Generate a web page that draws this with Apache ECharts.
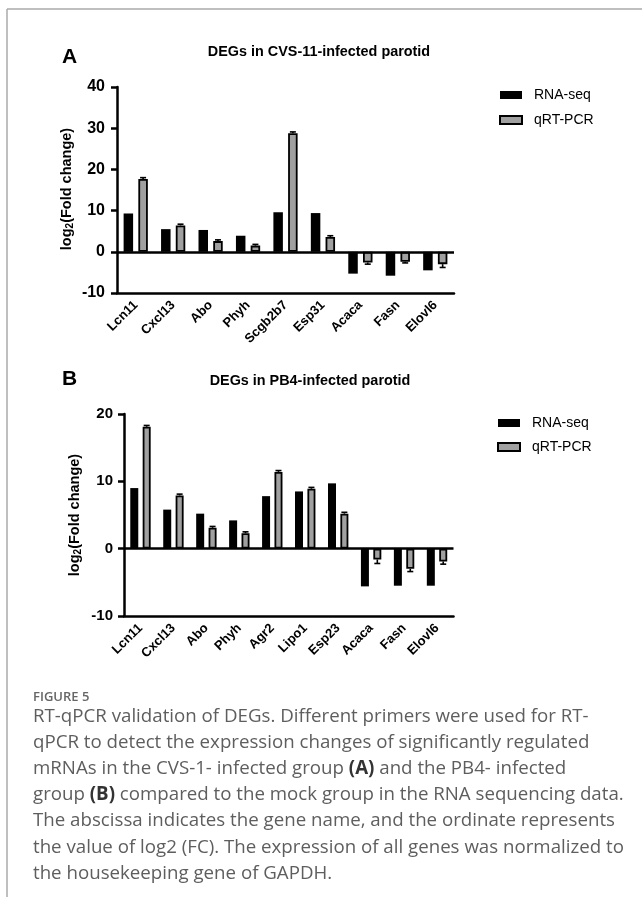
<!DOCTYPE html>
<html>
<head>
<meta charset="utf-8">
<script src="https://cdn.jsdelivr.net/npm/echarts@6/dist/echarts.min.js"></script>
<style>html,body{margin:0;padding:0;background:#fff;}#c{width:642px;height:897px;}</style>
</head>
<body>
<div id="c"></div>
<script>
// ---- Data ----
const genesA = ['Lcn11','Cxcl13','Abo','Phyh','Scgb2b7','Esp31','Acaca','Fasn','Elovl6'];
const rnaA   = [9.3, 5.5, 5.3, 3.9, 9.6, 9.4, -5.3, -5.8, -4.5];
const qpcrA  = [17.7, 6.4, 2.6, 1.5, 28.8, 3.6, -2.6, -2.4, -3.0];
const errA   = [0.3, 0.3, 0.3, 0.3, 0.3, 0.3, 0.4, 0.3, 0.8];

const genesB = ['Lcn11','Cxcl13','Abo','Phyh','Agr2','Lipo1','Esp23','Acaca','Fasn','Elovl6'];
const rnaB   = [9.0, 5.8, 5.2, 4.2, 7.8, 8.5, 9.7, -5.6, -5.5, -5.5];
const qpcrB  = [18.1, 7.9, 3.1, 2.3, 11.4, 8.9, 5.2, -1.6, -3.0, -1.9];
const errB   = [0.2, 0.2, 0.2, 0.2, 0.2, 0.2, 0.2, 0.6, 0.4, 0.4];

const yTicksA = {min: -10, max: 40, interval: 10};
const yTicksB = {min: -10, max: 20, interval: 10};

const FONT = 'Liberation Sans, Arial, sans-serif';
const chart = echarts.init(document.getElementById('c'), null, {renderer: 'canvas'});

function xAxisCfg(gi, cats) {
  return {
    type: 'category', gridIndex: gi, data: cats, boundaryGap: true,
    axisLine: {onZero: false, lineStyle: {color: '#000', width: 2.5}},
    axisTick: {alignWithLabel: true, length: 7, lineStyle: {color: '#000', width: 2.5}},
    axisLabel: {rotate: 45, margin: 10, color: '#000', fontFamily: FONT, fontWeight: 'bold', fontSize: 13, interval: 0},
    splitLine: {show: false}
  };
}
function yAxisCfg(gi, t, fs, mg) {
  return {
    type: 'value', gridIndex: gi, min: t.min, max: t.max, interval: t.interval,
    axisLine: {show: true, lineStyle: {color: '#000', width: 2.5}},
    axisTick: {show: true, length: 6, lineStyle: {color: '#000', width: 2.5}},
    axisLabel: {color: '#000', fontFamily: FONT, fontWeight: 'bold', fontSize: fs, margin: mg},
    splitLine: {show: false}
  };
}
const blackStyle = {color: '#000'};
const grayStyle = {color: '#a0a0a0', borderColor: '#000', borderWidth: 1.8};

function errSeries(gi, vals, errs, off) {
  return {
    type: 'custom', xAxisIndex: gi, yAxisIndex: gi, z: 5, silent: true,
    data: vals.map((v, i) => [i, v, errs[i]]),
    renderItem: function (params, api) {
      const i = api.value(0), v = api.value(1), e = api.value(2);
      const s = v >= 0 ? 1 : -1;
      const p0 = api.coord([i, v]);
      const p1 = api.coord([i, v + s * e]);
      const x = p0[0] + off;
      return {type: 'group', children: [
        {type: 'line', shape: {x1: x, y1: p0[1], x2: x, y2: p1[1]}, style: {stroke: '#000', lineWidth: 1.6}},
        {type: 'line', shape: {x1: x - 3, y1: p1[1], x2: x + 3, y2: p1[1]}, style: {stroke: '#000', lineWidth: 1.6}}
      ]};
    }
  };
}
const zeroLine = {silent: true, symbol: 'none', label: {show: false}, lineStyle: {color: '#000', width: 2.5, type: 'solid'}, data: [{yAxis: 0}]};

const wA = 9.5, gA = 0.55, wB = 8, gB = 0.55;

function yName(x, y) {
  return {
    type: 'text', x: x, y: y, rotation: Math.PI / 2,
    style: {
      text: '{a|log}{s|2}{a|(Fold change)}',
      align: 'center', verticalAlign: 'middle',
      rich: {
        a: {fontFamily: FONT, fontWeight: 'bold', fontSize: 14.5, lineHeight: 17, fill: '#000', verticalAlign: 'middle'},
        s: {fontFamily: FONT, fontWeight: 'bold', fontSize: 10, lineHeight: 10, fill: '#000', verticalAlign: 'bottom'}
      }
    }
  };
}
function txt(x, y, text, font, fill, align, rich) {
  const st = {text: text, x: 0, y: 0, font: font, fill: fill || '#000', align: align || 'left', verticalAlign: 'middle'};
  if (rich) st.rich = rich;
  return {type: 'text', x: x, y: y, style: st};
}
const CAPC = '#5e5e5e';
const capFont = '18.7px "Open Sans", sans-serif';
const capRich = {
  n: {font: capFont, fill: CAPC},
  b: {font: 'bold 18.7px "Open Sans", sans-serif', fill: '#333'}
};

const legendText = {fontFamily: FONT, fontSize: 14, color: '#000', padding: [0, 0, 0, 7]};

const option = {
  backgroundColor: '#fff',
  animation: false,
  grid: [
    {left: 117, top: 87, width: 337, height: 206},
    {left: 124, top: 414, width: 329.5, height: 202}
  ],
  xAxis: [xAxisCfg(0, genesA), xAxisCfg(1, genesB)],
  yAxis: [yAxisCfg(0, yTicksA, 16, 12), yAxisCfg(1, yTicksB, 15, 11)],
  legend: [
    {orient: 'vertical', left: 494, top: 83, itemWidth: 22, itemHeight: 8, itemGap: 11, icon: 'rect',
     data: ['RNA-seq', 'qRT-PCR'], textStyle: legendText},
    {orient: 'vertical', left: 492, top: 411, itemWidth: 22, itemHeight: 8, itemGap: 10, icon: 'rect',
     data: ['RNA-seq', 'qRT-PCR'], textStyle: legendText}
  ],
  series: [
    {name: 'RNA-seq', type: 'bar', xAxisIndex: 0, yAxisIndex: 0, data: rnaA, barWidth: wA, barGap: (gA * 100) + '%', itemStyle: blackStyle, markLine: zeroLine},
    {name: 'qRT-PCR', type: 'bar', xAxisIndex: 0, yAxisIndex: 0, data: qpcrA, barWidth: wA, barGap: (gA * 100) + '%', itemStyle: grayStyle},
    errSeries(0, qpcrA, errA, wA * (1 + gA) / 2),
    {name: 'RNA-seq', type: 'bar', xAxisIndex: 1, yAxisIndex: 1, data: rnaB, barWidth: wB, barGap: (gB * 100) + '%', itemStyle: blackStyle, markLine: zeroLine},
    {name: 'qRT-PCR', type: 'bar', xAxisIndex: 1, yAxisIndex: 1, data: qpcrB, barWidth: wB, barGap: (gB * 100) + '%', itemStyle: grayStyle},
    errSeries(1, qpcrB, errB, wB * (1 + gB) / 2)
  ],
  graphic: [
    {type: 'line', shape: {x1: 7, y1: 9, x2: 642, y2: 9}, style: {stroke: '#aaa', lineWidth: 1.5}},
    {type: 'line', shape: {x1: 7, y1: 9, x2: 7, y2: 897}, style: {stroke: '#aaa', lineWidth: 1.5}},
    txt(62, 57, 'A', 'bold 21px ' + FONT),
    txt(319, 52, 'DEGs in CVS-11-infected parotid', 'bold 14.4px ' + FONT, '#000', 'center'),
    txt(62, 379, 'B', 'bold 21px ' + FONT),
    txt(310, 381, 'DEGs in PB4-infected parotid', 'bold 14.4px ' + FONT, '#000', 'center'),
    yName(67, 189),
    yName(75, 515),
    txt(33, 697, 'FIGURE 5', '600 13px "Open Sans", sans-serif', '#666'),
    txt(33, 717, 'RT-qPCR validation of DEGs. Different primers were used for RT-', capFont, CAPC),
    txt(33, 743, 'qPCR to detect the expression changes of significantly regulated', capFont, CAPC),
    txt(33, 769, '{n|mRNAs in the CVS-1- infected group }{b|(A)}{n| and the PB4- infected}', capFont, CAPC, 'left', capRich),
    txt(33, 795, '{n|group }{b|(B)}{n| compared to the mock group in the RNA sequencing data.}', capFont, CAPC, 'left', capRich),
    txt(33, 821, 'The abscissa indicates the gene name, and the ordinate represents', capFont, CAPC),
    txt(33, 848, 'the value of log2 (FC). The expression of all genes was normalized to', capFont, CAPC),
    txt(33, 874, 'the housekeeping gene of GAPDH.', capFont, CAPC)
  ]
};
chart.setOption(option);
</script>
</body>
</html>
